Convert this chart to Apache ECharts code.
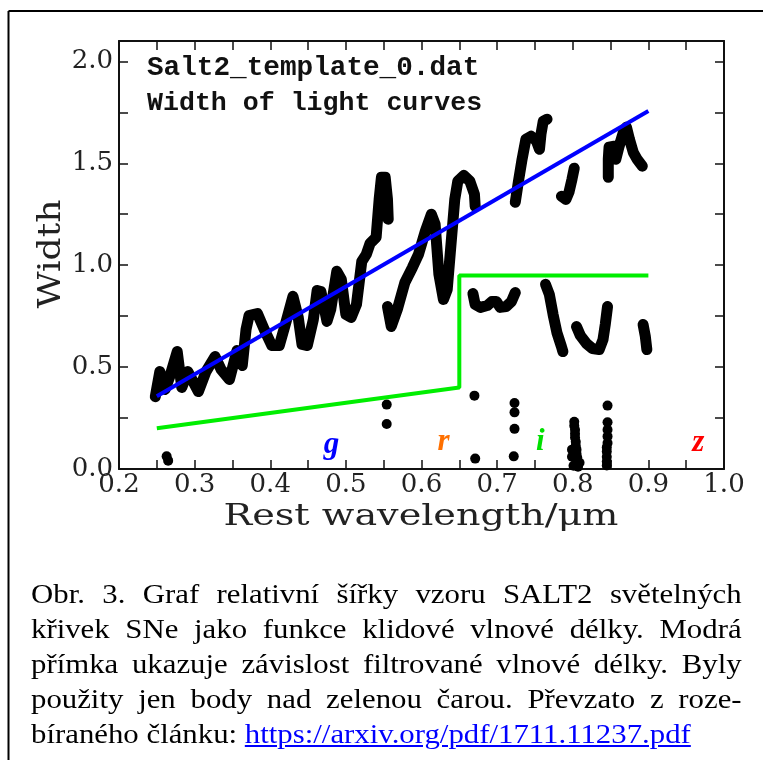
<!DOCTYPE html>
<html><head><meta charset="utf-8">
<script src="https://cdn.jsdelivr.net/npm/echarts@6/dist/echarts.min.js"></script>
<style>
html,body{margin:0;padding:0;background:#fff;}
#chart{position:absolute;left:0;top:0;width:763px;height:760px;}
#cap{position:absolute;left:31px;top:576px;width:646px;transform:scaleX(1.1);transform-origin:0 0;font-family:"Liberation Serif","Times New Roman",serif;font-size:28px;line-height:35px;color:#000;}
#cap .j{text-align:justify;text-align-last:justify;}
#cap .l{text-align:left;white-space:nowrap;}
#cap a{color:#0000ff;text-decoration:underline;}
</style></head>
<body>
<div id="chart"></div>
<div id="cap">
<div class="j">Obr. 3. Graf relativní šířky vzoru SALT2 světelných</div>
<div class="j">křivek SNe jako funkce klidové vlnové délky. Modrá</div>
<div class="j">přímka ukazuje závislost filtrované vlnové délky. Byly</div>
<div class="j">použity jen body nad zelenou čarou. Převzato z&nbsp;roze-</div>
<div class="l">bíraného článku: <a href="https://arxiv.org/pdf/1711.11237.pdf">https://arxiv.org/pdf/1711.11237.pdf</a></div>
</div>
<script>
// ---- tick labels ----
const xTickLabels = ['0.2','0.3','0.4','0.5','0.6','0.7','0.8','0.9','1.0'];
const yTickLabels = ['0.0','0.5','1.0','1.5','2.0'];

// ---- SALT2 template width data (rest wavelength [um], width) ----
const curveUV = [[0.248,0.355],[0.254,0.478],[0.261,0.390],[0.268,0.463],[0.277,0.576],[0.283,0.400],[0.291,0.478],[0.305,0.380],[0.315,0.478],[0.327,0.552],[0.335,0.488],[0.346,0.439],[0.356,0.581],[0.363,0.508],[0.368,0.685],[0.372,0.753],[0.383,0.763],[0.392,0.685],[0.402,0.606],[0.412,0.606],[0.421,0.724],[0.430,0.847],[0.437,0.744],[0.442,0.611],[0.449,0.606],[0.457,0.734],[0.462,0.876],[0.467,0.871],[0.475,0.724],[0.480,0.783],[0.488,0.970],[0.494,0.930],[0.500,0.758],[0.507,0.744],[0.514,0.807],[0.521,1.018],[0.527,1.053],[0.532,1.107],[0.540,1.137],[0.544,1.323],[0.547,1.431],[0.552,1.431],[0.555,1.323],[0.556,1.225]];
const curveG = [[0.555,0.797],[0.560,0.699],[0.568,0.783],[0.578,0.915],[0.588,0.989],[0.596,1.053],[0.605,1.166],[0.613,1.250],[0.618,1.201],[0.623,0.955],[0.629,0.832],[0.634,0.881],[0.639,1.102],[0.644,1.323],[0.648,1.412],[0.656,1.441],[0.664,1.412],[0.670,1.348],[0.671,1.289]];
const curveR1 = [[0.724,1.309],[0.728,1.407],[0.733,1.520],[0.738,1.618],[0.745,1.633],[0.752,1.609],[0.756,1.569],[0.758,1.643],[0.761,1.707],[0.766,1.716]];
const curveR2 = [[0.802,1.476],[0.799,1.422],[0.795,1.358],[0.791,1.323],[0.785,1.338]];
const curveI1 = [[0.847,1.431],[0.847,1.520],[0.848,1.579],[0.855,1.584],[0.857,1.520],[0.861,1.579],[0.867,1.653],[0.871,1.677],[0.875,1.618],[0.880,1.554],[0.885,1.520],[0.892,1.486]];
const curveLow1 = [[0.668,0.861],[0.671,0.807],[0.678,0.793],[0.687,0.802],[0.693,0.822],[0.699,0.822],[0.704,0.793],[0.712,0.797],[0.719,0.822],[0.724,0.866]];
const curveLow2 = [[0.764,0.906],[0.769,0.857],[0.774,0.758],[0.779,0.670],[0.785,0.601],[0.787,0.576]];
const curveLow3 = [[0.805,0.699],[0.810,0.655],[0.818,0.616],[0.826,0.591],[0.835,0.586],[0.840,0.635],[0.843,0.709],[0.846,0.797]];
const curveLow4 = [[0.893,0.709],[0.896,0.650],[0.898,0.586]];
const lowDots = [[0.263,0.062],[0.265,0.041],[0.554,0.316],[0.554,0.221],[0.670,0.360],[0.671,0.051],
  [0.723,0.324],[0.723,0.278],[0.723,0.197],[0.722,0.062],
  [0.802,0.232],[0.802,0.212],[0.803,0.193],[0.803,0.173],[0.803,0.154],[0.804,0.134],[0.804,0.114],[0.805,0.095],[0.805,0.075],[0.806,0.055],[0.806,0.036],[0.807,0.011],[0.799,0.095],[0.799,0.060],[0.809,0.031],[0.801,0.016],
  [0.846,0.311],[0.846,0.229],[0.846,0.193],[0.846,0.160],[0.846,0.128],[0.845,0.106],[0.845,0.086],[0.845,0.060],[0.845,0.037],[0.845,0.017]];
// fitted trend (blue) and selection cut (green)
const fitLine = [[0.25,0.357],[0.90,1.757]];
const cutLine = [[0.25,0.20],[0.65,0.40],[0.65,0.95],[0.90,0.95]];
// filter band labels
const bandNames = ['g','r','i','z'];
const bandX = [0.481,0.629,0.757,0.966];
const bandY = [0.12,0.135,0.135,0.13];
const bandColors = ['#0000ff','#ff7000','#00e000','#ff0000'];

const chart = echarts.init(document.getElementById('chart'), null, {renderer:'canvas'});
const axisCol = '#111';
const tickFont = {fontFamily:'"DejaVu Serif", serif', fontSize:26, color:'#222'};
function xFmt(v){ const s=v.toFixed(1); return (Math.abs(v*10-Math.round(v*10))<1e-6 && xTickLabels.includes(s)) ? s : ''; }
function yFmt(v){ const s=v.toFixed(1); return (Math.abs(v*2-Math.round(v*2))<1e-6 && yTickLabels.includes(s)) ? s : ''; }
function xAx(pos, showLabel){
  return {type:'value', position:pos, min:0.2, max:1.0, interval:0.05,
    axisLine:{show:true, onZero:false, lineStyle:{color:axisCol, width:2}},
    axisTick:{show:true, inside:true, length:9, interval:0, lineStyle:{color:axisCol, width:1.5}},
    axisLabel:{show:showLabel, interval:0, margin:3, formatter:xFmt, ...tickFont},
    splitLine:{show:false}};
}
function yAx(pos, showLabel){
  return {type:'value', position:pos, min:0, max:2.1, interval:0.25,
    axisLine:{show:true, onZero:false, lineStyle:{color:axisCol, width:2}},
    axisTick:{show:true, inside:true, length:9, interval:0, lineStyle:{color:axisCol, width:1.5}},
    axisLabel:{show:showLabel, interval:0, margin:6, formatter:yFmt, ...tickFont},
    splitLine:{show:false}};
}
function blackCurve(d){
  return {type:'line', data:d, xAxisIndex:0, yAxisIndex:0, showSymbol:false, symbol:'none', silent:true,
    lineStyle:{color:'#000', width:11, cap:'round', join:'round', opacity:1}, z:2};
}
const bandData = bandNames.map((n,i)=>({value:[bandX[i],bandY[i]], name:n,
  label:{show:true, position:'inside', formatter:n, color:bandColors[i], fontFamily:'"Liberation Serif", serif', fontStyle:'italic', fontWeight:'bold', fontSize:31}}));

chart.setOption({
  animation:false,
  grid:{left:119, right:39, top:41, bottom:291, containLabel:false},
  xAxis:[xAx('bottom',true), xAx('top',false)],
  yAxis:[yAx('left',true), yAx('right',false)],
  series:[
    blackCurve(curveUV), blackCurve(curveG), blackCurve(curveR1), blackCurve(curveR2), blackCurve(curveI1),
    blackCurve(curveLow1), blackCurve(curveLow2), blackCurve(curveLow3), blackCurve(curveLow4),
    {type:'scatter', data:lowDots, symbol:'circle', symbolSize:10, itemStyle:{color:'#000', opacity:1}, z:2, silent:true},
    {type:'line', data:cutLine, showSymbol:false, symbol:'none', lineStyle:{color:'#00ee00', width:4}, z:3, silent:true},
    {type:'line', data:fitLine, showSymbol:false, symbol:'none', lineStyle:{color:'#0000ff', width:4}, z:4, silent:true},
    {type:'scatter', data:bandData, symbolSize:1, itemStyle:{color:'rgba(0,0,0,0)', opacity:1}, z:5, silent:true}
  ],
  graphic:[
    {type:'line', shape:{x1:8.5, y1:11, x2:763, y2:11}, style:{stroke:'#000', lineWidth:2}, silent:true},
    {type:'line', shape:{x1:8.5, y1:11, x2:8.5, y2:760}, style:{stroke:'#000', lineWidth:2}, silent:true},
    {type:'text', x:147, y:68, silent:true, style:{text:'Salt2_template_0.dat', font:'bold 27.7px "Liberation Mono"', fill:'#111', align:'left', verticalAlign:'middle'}},
    {type:'text', x:147, y:103, silent:true, style:{text:'Width of light curves', font:'bold 26.6px "Liberation Mono"', fill:'#111', align:'left', verticalAlign:'middle'}},
    {type:'text', x:421, y:517, scaleX:1.27, silent:true, style:{text:'Rest wavelength/μm', font:'30px "DejaVu Serif"', fill:'#222', align:'center', verticalAlign:'middle'}},
    {type:'text', x:52, y:254, rotation:Math.PI/2, scaleX:1.13, silent:true, style:{text:'Width', font:'32px "DejaVu Serif"', fill:'#222', align:'center', verticalAlign:'middle'}}
  ]
});
</script>
</body></html>
